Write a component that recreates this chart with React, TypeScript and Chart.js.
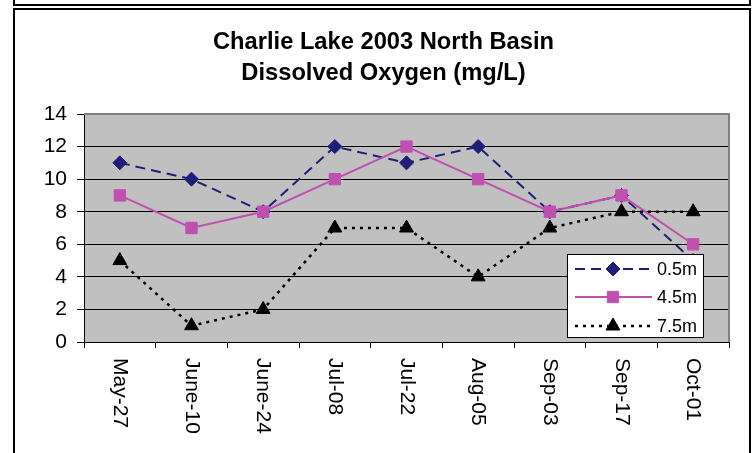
import React, { useEffect, useRef } from 'react';
import { Chart, registerables } from 'chart.js';

Chart.register(...registerables);

const categories = ['May-27', 'June-10', 'June-24', 'Jul-08', 'Jul-22', 'Aug-05', 'Sep-03', 'Sep-17', 'Oct-01'];
const do05 = [11, 10, 8, 12, 11, 12, 8, 9, 5];
const do45 = [9, 7, 8, 10, 12, 10, 8, 9, 6];
const do75 = [5, 1, 2, 7, 7, 4, 7, 8, 8];
const seriesNames = ['0.5m', '4.5m', '7.5m'];
const titleLines = ['Charlie Lake 2003 North Basin', 'Dissolved Oxygen (mg/L)'];
const yMin = 0;
const yMax = 14;
const yStep = 2;

const FONT = '"Liberation Sans", Arial, sans-serif';
const NAVY = '#1F1F78';
const PINK = '#C050B0';
const BLACK = '#000000';

function drawMarker(ctx: CanvasRenderingContext2D, style: string, x: number, y: number, r: number, color: string) {
  ctx.save();
  ctx.fillStyle = color;
  ctx.strokeStyle = color;
  ctx.lineWidth = 1;
  ctx.setLineDash([]);
  ctx.beginPath();
  if (style === 'rectRot') {
    ctx.moveTo(x, y - r);
    ctx.lineTo(x + r, y);
    ctx.lineTo(x, y + r);
    ctx.lineTo(x - r, y);
    ctx.closePath();
  } else if (style === 'rect') {
    const s = Math.SQRT1_2 * r;
    ctx.rect(x - s, y - s, 2 * s, 2 * s);
  } else if (style === 'triangle') {
    ctx.moveTo(x, y - r);
    ctx.lineTo(x + Math.sin(Math.PI * 2 / 3) * r, y + r / 2);
    ctx.lineTo(x - Math.sin(Math.PI * 2 / 3) * r, y + r / 2);
    ctx.closePath();
  }
  ctx.fill();
  ctx.stroke();
  ctx.restore();
}

const plotBackground = {
  id: 'plotBackground',
  beforeDraw(chart: any) {
    const { ctx, chartArea: a } = chart;
    ctx.save();
    ctx.fillStyle = '#C0C0C0';
    ctx.fillRect(a.left, a.top, a.right - a.left, a.bottom - a.top);
    ctx.restore();
  },
  beforeDatasetsDraw(chart: any) {
    const { ctx, chartArea: a } = chart;
    ctx.save();
    ctx.strokeStyle = '#808080';
    ctx.lineWidth = 2;
    ctx.beginPath();
    ctx.moveTo(a.left, a.top);
    ctx.lineTo(a.right, a.top);
    ctx.lineTo(a.right, a.bottom);
    ctx.stroke();
    ctx.restore();
  },
};

const rotatedXLabels = {
  id: 'rotatedXLabels',
  afterDraw(chart: any) {
    const { ctx, chartArea: a } = chart;
    const xs = chart.scales.x;
    ctx.save();
    ctx.fillStyle = '#000';
    ctx.font = `21px ${FONT}`;
    ctx.textAlign = 'left';
    ctx.textBaseline = 'middle';
    xs.ticks.forEach((t: any, i: number) => {
      const label = xs.getLabelForValue(t.value);
      const x = xs.getPixelForTick(i);
      ctx.save();
      ctx.translate(x, a.bottom + 16);
      ctx.rotate(Math.PI / 2);
      ctx.fillText(label, 0, 0);
      ctx.restore();
    });
    ctx.restore();
  },
};

const insideLegend = {
  id: 'insideLegend',
  afterDraw(chart: any) {
    const { ctx, chartArea: a } = chart;
    const left = a.right - 162;
    const right = a.right - 26;
    const bottom = a.bottom - 5;
    const top = bottom - 83;
    ctx.save();
    ctx.fillStyle = '#fff';
    ctx.fillRect(left, top, right - left, bottom - top);
    ctx.strokeStyle = '#000';
    ctx.lineWidth = 1;
    ctx.strokeRect(left + 0.5, top + 0.5, right - left, bottom - top);
    const rowOffsets = [15, 43, 72];
    chart.data.datasets.forEach((ds: any, i: number) => {
      const y = top + rowOffsets[i];
      ctx.save();
      ctx.strokeStyle = ds.borderColor;
      ctx.lineWidth = ds.borderWidth;
      ctx.setLineDash(ds.borderDash || []);
      ctx.beginPath();
      ctx.moveTo(left + 8, y);
      ctx.lineTo(left + 85, y);
      ctx.stroke();
      ctx.restore();
      drawMarker(ctx, ds.pointStyle, left + 46, y, ds.pointRadius, ds.pointBackgroundColor);
      ctx.fillStyle = '#000';
      ctx.font = `18px ${FONT}`;
      ctx.textAlign = 'left';
      ctx.textBaseline = 'middle';
      ctx.fillText(ds.label, left + 90, y + 1);
    });
    ctx.restore();
  },
};

export default function App() {
  const canvasRef = useRef<HTMLCanvasElement | null>(null);

  useEffect(() => {
    if (!canvasRef.current) return;
    const chart = new Chart(canvasRef.current, {
      type: 'line',
      data: {
        labels: categories,
        datasets: [
          {
            label: seriesNames[0],
            data: do05,
            borderColor: NAVY,
            backgroundColor: NAVY,
            pointBackgroundColor: NAVY,
            pointBorderColor: NAVY,
            borderWidth: 2,
            borderDash: [10, 6],
            pointStyle: 'rectRot',
            pointRadius: 7,
            pointBorderWidth: 1,
            tension: 0,
            clip: false,
            order: 3,
          },
          {
            label: seriesNames[1],
            data: do45,
            borderColor: PINK,
            backgroundColor: PINK,
            pointBackgroundColor: PINK,
            pointBorderColor: PINK,
            borderWidth: 2,
            borderDash: [],
            pointStyle: 'rect',
            pointRadius: 8,
            pointBorderWidth: 1,
            tension: 0,
            clip: false,
            order: 2,
          },
          {
            label: seriesNames[2],
            data: do75,
            borderColor: BLACK,
            backgroundColor: BLACK,
            pointBackgroundColor: BLACK,
            pointBorderColor: BLACK,
            borderWidth: 2.5,
            borderDash: [3, 5],
            pointStyle: 'triangle',
            pointRadius: 8,
            pointBorderWidth: 1,
            tension: 0,
            clip: false,
            order: 1,
          },
        ] as any,
      },
      options: {
        responsive: false,
        animation: false,
        layout: { padding: { left: 38, right: 24, top: 0, bottom: 0 } },
        plugins: {
          legend: { display: false },
          tooltip: { enabled: false },
          title: {
            display: true,
            text: titleLines,
            color: '#000',
            font: { family: FONT, size: 23.7, weight: 'bold', lineHeight: 31 / 23.7 },
            padding: { top: 27, bottom: 25 },
          },
        },
        scales: {
          x: {
            type: 'category',
            offset: true,
            grid: {
              offset: true,
              drawOnChartArea: false,
              drawTicks: true,
              tickLength: 6,
              color: '#000',
              lineWidth: 1,
            },
            border: { color: '#000', width: 1 },
            ticks: { display: false },
            afterFit: (s: any) => {
              s.height = 111;
            },
          },
          y: {
            min: yMin,
            max: yMax,
            ticks: {
              stepSize: yStep,
              color: '#000',
              font: { family: FONT, size: 21 },
              padding: 10,
            },
            grid: {
              color: (c: any) => (c.tick && c.tick.value === yMax ? '#808080' : '#000'),
              tickColor: '#000',
              tickLength: 7,
              lineWidth: 1,
            },
            border: { color: '#000', width: 1 },
            afterFit: (s: any) => {
              s.width = 46;
            },
          },
        },
      } as any,
      plugins: [plotBackground, rotatedXLabels, insideLegend],
    });
    return () => chart.destroy();
  }, []);

  return (
    <div style={{ position: 'absolute', left: 0, top: 0, width: 753, height: 453, overflow: 'hidden', background: '#fff' }}>
      <canvas ref={canvasRef} width={753} height={453} style={{ position: 'absolute', left: 0, top: 0 }} />
      <div style={{ position: 'absolute', left: 13, top: -10, width: 738, height: 16, boxSizing: 'border-box', border: '2px solid #000', pointerEvents: 'none' }} />
      <div style={{ position: 'absolute', left: 13, top: 8, width: 738, height: 470, boxSizing: 'border-box', border: '2px solid #000', pointerEvents: 'none' }} />
    </div>
  );
}
